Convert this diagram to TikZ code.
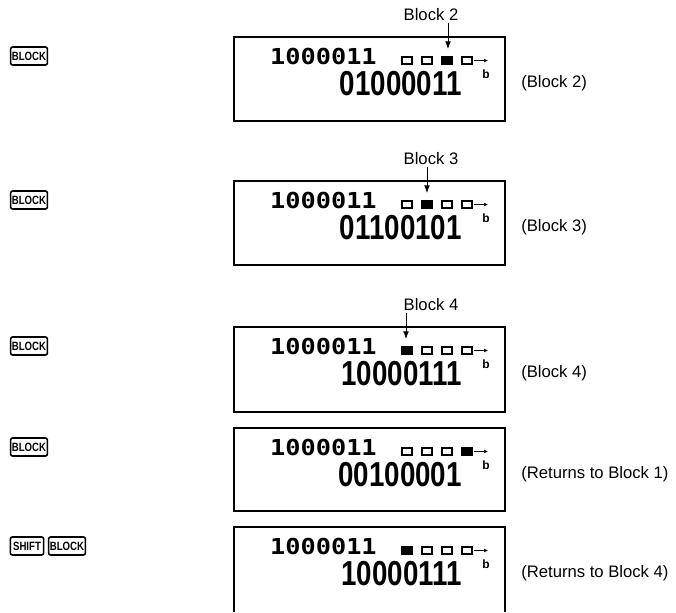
\documentclass[tikz,border=0pt]{standalone}
\usepackage{fontspec}
\setmainfont{Liberation Sans}
\newfontfamily\lcdmono{DejaVu Sans Mono}
\usetikzlibrary{arrows.meta}
\newcommand{\keytext}[1]{\scalebox{0.8}[1]{\bfseries\fontsize{9}{10}\selectfont #1}}

\begin{document}
\begin{tikzpicture}[>=Latex,x=0.75pt,y=-0.75pt,
  keycap/.style={draw,line width=1.2pt,rounded corners=1.5pt,inner sep=1pt,minimum width=25pt,minimum height=13.5pt},
  panel/.style={line width=1.1pt},
  upper/.style={anchor=east,inner sep=0pt,font=\lcdmono\bfseries\fontsize{16.5}{17}\selectfont},
  lower/.style={anchor=east,inner sep=0pt,font=\bfseries\fontsize{26}{27}\selectfont},
  note/.style={anchor=west,inner sep=0pt,font=\fontsize{12.5}{13}\selectfont},
  cell/.style={line width=1.2pt}]
  \useasboundingbox (0,0) rectangle (676,612);
  % BLOCK pressed once: block 2
  \begin{scope}[shift={(0,37)}]
    \node[keycap] (k1) at (29,19) {\keytext{BLOCK}};
    \draw[panel] (234,0) rectangle (505,84);
    \node[upper] (t1) at (377,19) {\scalebox{1.15}[1]{1000011}};
    \node[lower] (b1) at (462,47) {\scalebox{0.8}[1]{01000011}};
    \node[inner sep=0pt,font=\bfseries\fontsize{9}{10}\selectfont] (s1) at (486,37) {b};
    \foreach \i in {1,...,4}{\draw[cell] ({402+20*(\i-1)},20) rectangle +(10,7);}
    \fill (442,20) rectangle +(10,7);
    \draw[-{Latex[length=3pt,width=3pt]},line width=0.9pt] (474,23.5) -- (488,23.5);
    \node[note] (n1) at (521,46) {(Block 2)};
    \node[inner sep=1pt,font=\fontsize{12.5}{13}\selectfont] (l1) at (431,-22) {Block 2};
    \coordinate (p1) at (448,12);
    \draw[->,line width=0.6pt] (l1.south -| p1) -- (p1);
  \end{scope}
  % BLOCK again: block 3
  \begin{scope}[shift={(0,181)}]
    \node[keycap] (k2) at (29,19) {\keytext{BLOCK}};
    \draw[panel] (234,0) rectangle (505,84);
    \node[upper] (t2) at (377,19) {\scalebox{1.15}[1]{1000011}};
    \node[lower] (b2) at (462,47) {\scalebox{0.8}[1]{01100101}};
    \node[inner sep=0pt,font=\bfseries\fontsize{9}{10}\selectfont] (s2) at (486,37) {b};
    \foreach \i in {1,...,4}{\draw[cell] ({402+20*(\i-1)},20) rectangle +(10,7);}
    \fill (422,20) rectangle +(10,7);
    \draw[-{Latex[length=3pt,width=3pt]},line width=0.9pt] (474,23.5) -- (488,23.5);
    \node[note] (n2) at (521,46) {(Block 3)};
    \node[inner sep=1pt,font=\fontsize{12.5}{13}\selectfont] (l2) at (431,-22) {Block 3};
    \coordinate (p2) at (427,12);
    \draw[->,line width=0.6pt] (l2.south -| p2) -- (p2);
  \end{scope}
  % BLOCK again: block 4
  \begin{scope}[shift={(0,327)}]
    \node[keycap] (k3) at (29,19) {\keytext{BLOCK}};
    \draw[panel] (234,0) rectangle (505,85);
    \node[upper] (t3) at (377,19) {\scalebox{1.15}[1]{1000011}};
    \node[lower] (b3) at (462,47) {\scalebox{0.8}[1]{10000111}};
    \node[inner sep=0pt,font=\bfseries\fontsize{9}{10}\selectfont] (s3) at (486,37) {b};
    \foreach \i in {1,...,4}{\draw[cell] ({402+20*(\i-1)},20) rectangle +(10,7);}
    \fill (402,20) rectangle +(10,7);
    \draw[-{Latex[length=3pt,width=3pt]},line width=0.9pt] (474,23.5) -- (488,23.5);
    \node[note] (n3) at (521,46) {(Block 4)};
    \node[inner sep=1pt,font=\fontsize{12.5}{13}\selectfont] (l3) at (431,-22) {Block 4};
    \coordinate (p3) at (406,12);
    \draw[->,line width=0.6pt] (l3.south -| p3) -- (p3);
  \end{scope}
  % BLOCK again: back to block 1
  \begin{scope}[shift={(0,428)}]
    \node[keycap] (k4) at (29,19) {\keytext{BLOCK}};
    \draw[panel] (234,0) rectangle (505,83);
    \node[upper] (t4) at (377,19) {\scalebox{1.15}[1]{1000011}};
    \node[lower] (b4) at (462,47) {\scalebox{0.8}[1]{00100001}};
    \node[inner sep=0pt,font=\bfseries\fontsize{9}{10}\selectfont] (s4) at (486,37) {b};
    \foreach \i in {1,...,4}{\draw[cell] ({402+20*(\i-1)},20) rectangle +(10,7);}
    \fill (462,20) rectangle +(10,7);
    \draw[-{Latex[length=3pt,width=3pt]},line width=0.9pt] (474,23.5) -- (488,23.5);
    \node[note] (n4) at (521,46) {(Returns to Block 1)};
  \end{scope}
  % SHIFT BLOCK: back to block 4
  \begin{scope}[shift={(0,527)}]
    \node[keycap] (k5) at (27,19) {\keytext{SHIFT}};
    \node[keycap] (k6) at (67,19) {\keytext{BLOCK}};
    \draw[panel] (234,85) |- (505,0) -- (505,85);
    \node[upper] (t5) at (377,19) {\scalebox{1.15}[1]{1000011}};
    \node[lower] (b5) at (462,47) {\scalebox{0.8}[1]{10000111}};
    \node[inner sep=0pt,font=\bfseries\fontsize{9}{10}\selectfont] (s5) at (486,37) {b};
    \foreach \i in {1,...,4}{\draw[cell] ({402+20*(\i-1)},20) rectangle +(10,7);}
    \fill (402,20) rectangle +(10,7);
    \draw[-{Latex[length=3pt,width=3pt]},line width=0.9pt] (474,23.5) -- (488,23.5);
    \node[note] (n5) at (521,46) {(Returns to Block 4)};
  \end{scope}
\end{tikzpicture}
\end{document}
